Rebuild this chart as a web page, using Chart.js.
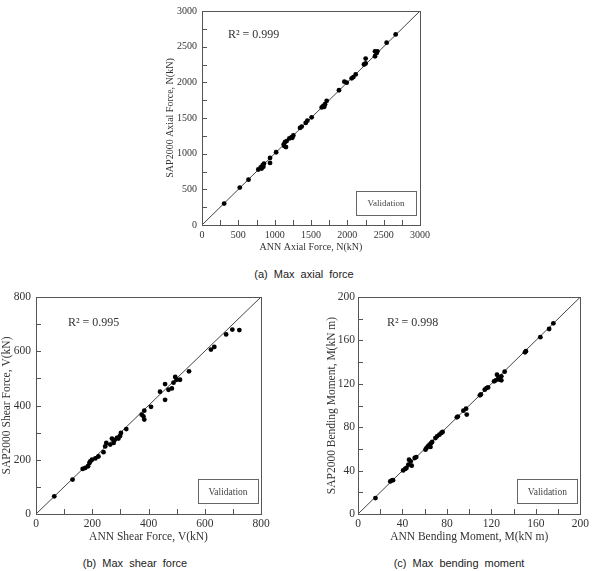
<!DOCTYPE html>
<html><head><meta charset="utf-8">
<script src="https://cdn.jsdelivr.net/npm/chart.js@4/dist/chart.umd.min.js"></script>
<style>
html,body{margin:0;padding:0;background:#fff;overflow:hidden;width:592px;height:571px;}
.c{position:absolute;}
.cap{position:absolute;font-family:"Liberation Sans",Arial,sans-serif;font-size:11px;color:#222;word-spacing:3px;white-space:nowrap;transform:translate(-50%,-50%);}
</style></head><body>
<div class="c" style="left:150px;top:0px;width:290px;height:262px;"><canvas id="ca"></canvas></div>
<div class="c" style="left:0px;top:285px;width:280px;height:262px;"><canvas id="cb"></canvas></div>
<div class="c" style="left:322px;top:285px;width:270px;height:262px;"><canvas id="cc"></canvas></div>
<div class="cap" style="left:304px;top:274px;">(a) Max axial force</div>
<div class="cap" style="left:135px;top:563px;">(b) Max shear force</div>
<div class="cap" style="left:459px;top:563px;">(c) Max bending moment</div>
<script>
// ---- data ----
const axialANN = [305,520,640,775,807,835,853,821,844,936,936,1020,1124,1142,1165,1156,1133,1202,1234,1257,1243,1349,1372,1427,1450,1509,1647,1670,1693,1683,1716,1885,1959,1991,2060,2083,2115,2229,2252,2252,2381,2404,2381,2413,2541,2665];
const axialSAP = [300,525,635,778,806,838,861,792,815,940,870,1020,1130,1162,1176,1093,1106,1213,1231,1255,1222,1361,1380,1431,1463,1509,1648,1671,1694,1657,1741,1889,2009,1995,2056,2074,2111,2250,2264,2333,2435,2412,2366,2435,2556,2671];
const shearANN = [65,130,166,175,185,190,193,199,211,222,240,246,250,264,270,276,279,288,293,299,302,321,376,382,385,385,409,441,459,459,471,483,489,495,500,512,544,622,634,676,698,723];
const shearSAP = [65,127,166,170,176,188,194,200,205,212,228,249,262,256,278,262,272,281,278,288,299,313,366,360,348,381,395,451,479,421,458,463,484,505,495,495,526,606,616,662,680,678];
const momentANN = [15.7,29,30.5,31.5,40.6,42.4,43.6,45.3,45.9,47.4,48.3,51,52.4,60.7,61.6,62.8,64.3,65.2,65.8,66.7,69.6,71.1,73.2,75,76.1,88.9,89.8,94.8,97.2,97.8,109.6,110.5,114,115.6,117,122.4,123.9,125,127.4,126.5,128.9,128.9,131.9,150.2,151,164,171.9,175.7];
const momentSAP = [14.7,30,31,31.2,40.2,41.5,42.4,45.5,50,48.5,44.5,51.6,52.5,59.3,60.8,62.4,63.9,61.8,65.4,66.4,70,71.6,73.1,74.7,75.6,89.1,89.8,95.2,97.1,91.6,109.4,110.2,114.6,116.1,116.7,122.3,123.2,128.4,123.8,126,126.9,123.2,131.2,149,150,163,170.5,175.7];
const axisMax = [3000, 800, 200];
const minorStep = [250, 100, 20];
const majorStep = [500, 200, 40];
const xTitles = ["ANN Axial Force, N(kN)", "ANN Shear Force, V(kN)", "ANN Bending Moment, M(kN m)"];
const yTitles = ["SAP2000 Axial Force, N(kN)", "SAP2000 Shear Force, V(kN)", "SAP2000 Bending Moment, M(kN m)"];
const r2Labels = ["R\u00B2 = 0.999", "R\u00B2 = 0.995", "R\u00B2 = 0.998"];
const legendLabel = "Validation";

const SERIF = '"Liberation Serif","Times New Roman",serif';

const decor = {
  id: 'decor',
  afterDatasetsDraw(chart, args, o) {
    const {ctx, chartArea: a, scales} = chart;
    ctx.save();
    // frame
    ctx.strokeStyle = '#555'; ctx.lineWidth = 1;
    ctx.strokeRect(Math.round(a.left)+0.5, Math.round(a.top)+0.5, Math.round(a.right-a.left), Math.round(a.bottom-a.top));
    // inward ticks
    ctx.beginPath();
    scales.x.ticks.forEach((t,i)=>{ const px = Math.round(scales.x.getPixelForTick(i))+0.5; ctx.moveTo(px, a.bottom); ctx.lineTo(px, a.bottom-5); });
    scales.y.ticks.forEach((t,i)=>{ const py = Math.round(scales.y.getPixelForTick(i))+0.5; ctx.moveTo(a.left, py); ctx.lineTo(a.left+5, py); });
    ctx.stroke();
    // R2 text
    ctx.fillStyle = '#333';
    ctx.font = o.r2Size + 'px ' + SERIF;
    ctx.textBaseline = 'middle'; ctx.textAlign = 'left';
    ctx.fillText(o.r2, a.left + o.r2dx, a.top + o.r2dy);
    // legend box
    const bw = 60, bh = 24;
    const bx = a.right - o.bRight - bw, by = a.bottom - o.bBottom - bh;
    ctx.strokeStyle = '#666';
    ctx.strokeRect(Math.round(bx)+0.5, Math.round(by)+0.5, bw, bh);
    ctx.fillStyle = '#444';
    ctx.font = o.legSize + 'px ' + SERIF;
    ctx.textAlign = 'center';
    ctx.fillText(legendLabel, bx + bw/2, by + bh/2 + 1);
    ctx.restore();
  }
};

function make(id, k, xs, ys, L) {
  const pts = xs.map((v,i)=>({x:v, y:ys[i]}));
  const m = axisMax[k];
  const tickFont = {family: SERIF, size: L.tick};
  const titleFont = {family: SERIF, size: L.title};
  const scale = (title, isX) => ({
    type: 'linear', min: 0, max: m,
    grid: {display: false, drawTicks: false},
    border: {display: false},
    ticks: {stepSize: minorStep[k], autoSkip: false, maxRotation: 0, color: '#333', font: tickFont,
      padding: isX ? L.xTickPad : L.yTickPad,
      callback: v => (v % majorStep[k] === 0 ? String(v) : '')},
    title: {display: true, text: title, color: '#333', font: titleFont,
      padding: isX ? {top:0, bottom: L.xTitlePad} : {top: L.yTitlePad, bottom: 0}},
    afterFit: s => { if (isX) s.height = L.xH; else s.width = L.yW; }
  });
  return new Chart(document.getElementById(id), {
    data: {datasets: [
      {type: 'scatter', data: pts, backgroundColor: '#000', borderColor: '#000', pointRadius: 2.4, pointHoverRadius: 2.4, borderWidth: 0},
      {type: 'line', data: [{x:0,y:0},{x:m,y:m}], borderColor: '#444', borderWidth: 1, pointRadius: 0, fill: false}
    ]},
    options: {
      responsive: true, maintainAspectRatio: false, animation: false,
      layout: {padding: {left: 0, right: L.padR, top: L.padT, bottom: 0}},
      plugins: {legend: {display: false}, tooltip: {enabled: false},
        decor: {r2: r2Labels[k], r2Size: 12, r2dx: L.r2dx, r2dy: L.r2dy, bRight: L.bRight, bBottom: L.bBottom, legSize: L.leg}},
      scales: {x: scale(xTitles[k], true), y: scale(yTitles[k], false)}
    },
    plugins: [decor]
  });
}

make('ca', 0, axialANN, axialSAP, {tick: 10, title: 10, xTickPad: 4, yTickPad: 5, xTitlePad: 9, yTitlePad: 14, xH: 37, yW: 52, padR: 20, padT: 9, r2dx: 26, r2dy: 24, bRight: 4, bBottom: 10, leg: 9});
make('cb', 1, shearANN, shearSAP, {tick: 11.5, title: 11.5, xTickPad: 3, yTickPad: 5, xTitlePad: 3, yTitlePad: 0, xH: 33, yW: 36, padR: 19, padT: 12, r2dx: 32, r2dy: 26, bRight: 3, bBottom: 11, leg: 9.5});
make('cc', 2, momentANN, momentSAP, {tick: 11.5, title: 11.5, xTickPad: 3, yTickPad: 3, xTitlePad: 3, yTitlePad: 3, xH: 33, yW: 36, padR: 9, padT: 12, r2dx: 29, r2dy: 26, bRight: 3, bBottom: 11, leg: 9.5});
</script>
</body></html>
